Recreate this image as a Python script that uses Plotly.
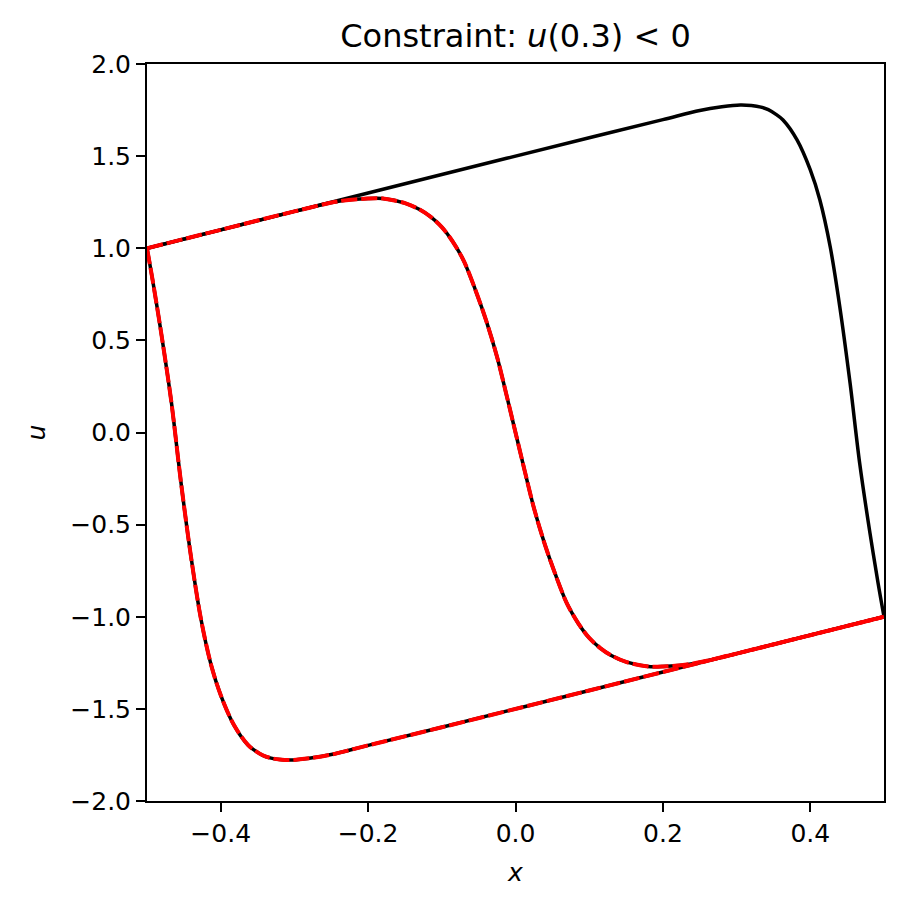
import plotly.graph_objects as go

# Solution 1 (black only)
x1 = [-0.5, -0.3, -0.1, 0.1, 0.2, 0.25, 0.28, 0.305, 0.32, 0.333, 0.343, 0.353, 0.363,
      0.382, 0.4, 0.413, 0.427, 0.44, 0.454, 0.467, 0.481, 0.492, 0.5]
u1 = [1.0, 1.2, 1.4, 1.6, 1.698, 1.748, 1.768, 1.778, 1.775, 1.766, 1.752, 1.728, 1.696,
      1.588, 1.425, 1.262, 1.008, 0.683, 0.267, -0.167, -0.547, -0.818, -1.0]

# Solution 2 (satisfies constraint)
x2 = [-0.5, -0.492, -0.481, -0.467, -0.454, -0.44, -0.427, -0.413, -0.4, -0.382, -0.363,
      -0.353, -0.343, -0.333, -0.32, -0.305, -0.28, -0.25, -0.2, -0.1, 0.1, 0.3, 0.5]
u2 = [1.0, 0.818, 0.547, 0.167, -0.267, -0.683, -1.008, -1.262, -1.425, -1.588, -1.696,
      -1.728, -1.752, -1.766, -1.775, -1.778, -1.768, -1.748, -1.698, -1.6, -1.4, -1.2, -1.0]

# Solution 3 (satisfies constraint)
x3 = [-0.5, -0.4, -0.3, -0.24, -0.2, -0.18, -0.15, -0.13, -0.115, -0.1, -0.085, -0.07,
      -0.055, -0.04, -0.025, -0.012, 0.0, 0.012, 0.025, 0.04, 0.055, 0.07, 0.085, 0.1,
      0.115, 0.13, 0.15, 0.18, 0.2, 0.24, 0.3, 0.4, 0.5]
u3 = [1.0, 1.1, 1.2, 1.255, 1.27, 1.27, 1.245, 1.21, 1.17, 1.115, 1.035, 0.93,
      0.78, 0.61, 0.41, 0.2, 0.0, -0.2, -0.41, -0.61, -0.78, -0.93, -1.035, -1.115,
      -1.17, -1.21, -1.245, -1.27, -1.27, -1.255, -1.2, -1.1, -1.0]

FONT = "DejaVu Sans"

fig = go.Figure()
for xs, us in [(x1, u1), (x2, u2), (x3, u3)]:
    fig.add_trace(go.Scatter(x=xs, y=us, mode="lines",
                             line=dict(color="black", width=3.5, shape="spline", smoothing=0.9),
                             showlegend=False, hoverinfo="skip"))
for xs, us in [(x2, u2), (x3, u3)]:
    fig.add_trace(go.Scatter(x=xs, y=us, mode="lines",
                             line=dict(color="red", width=4, dash="16px,4px",
                                       shape="spline", smoothing=0.9),
                             showlegend=False, hoverinfo="skip"))

axis_common = dict(showline=True, linecolor="black", linewidth=2, mirror=True,
                   ticks="outside", ticklen=9, tickwidth=2, tickcolor="black",
                   showgrid=False, zeroline=False,
                   tickfont=dict(family=FONT, size=25, color="black"))

fig.update_xaxes(range=[-0.5, 0.5], tick0=0, dtick=0.2, tickformat=".1f",
                 title=dict(text="<i>x</i>", font=dict(family=FONT, size=25, color="black"),
                            standoff=16),
                 **axis_common)
fig.update_yaxes(range=[-2, 2], tick0=0, dtick=0.5, tickformat=".1f",
                 title=dict(text="<i>u</i>", font=dict(family=FONT, size=25, color="black"),
                            standoff=18),
                 **axis_common)

fig.update_layout(
    width=905, height=909,
    margin=dict(l=139, r=29, t=56, b=116, autoexpand=False),
    paper_bgcolor="white", plot_bgcolor="white",
    title=dict(text="Constraint: <i>u</i>(0.3) &lt; 0", x=0.5, xref="paper",
               y=1 - 28 / 909, yref="container", xanchor="center", yanchor="middle",
               font=dict(family=FONT, size=32, color="black")),
)

fig.write_html("out.html")
